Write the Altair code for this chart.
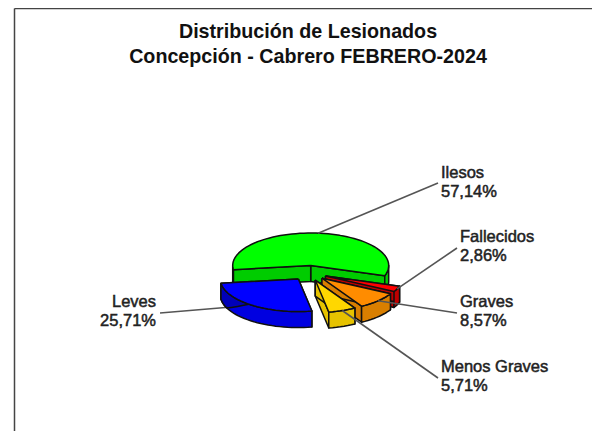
import numpy as np
import pandas as pd
import altair as alt

# --- data ---
categories = ["Ilesos", "Leves", "Menos Graves", "Graves", "Fallecidos"]
percentages = [57.14, 25.71, 5.71, 8.57, 2.86]
pct_labels = ["57,14%", "25,71%", "5,71%", "8,57%", "2,86%"]
top_colors = ["#00ff00", "#0000ff", "#ffd700", "#ff8c00", "#ff0000"]
wall_colors = ["#00cc00", "#0000e0", "#e6c200", "#d97f00", "#c00000"]
title_lines = ["Distribución de Lesionados", "Concepción - Cabrero FEBRERO-2024"]

# --- layout (page pixels) ---
W, H, M = 584, 423, 8
CX, CY, RX, RY, DEPTH, EXPLODE = 309, 273, 78, 32.5, 16, 18
START_DEG = -18.3
draw_order = [0, 4, 3, 2, 1]
label_anchor = {  # x, first baseline, align, leader end x, leader end y
    "Ilesos": (441, 178, "left", 438, 183),
    "Leves": (156, 307, "right", 160, 313),
    "Menos Graves": (441, 372, "left", 438, 378),
    "Graves": (460, 307, "left", 457, 313),
    "Fallecidos": (460, 242, "left", 457, 248),
}

fracs = np.array(percentages) / sum(percentages) * 360
edges = START_DEG + np.concatenate([[0], np.cumsum(fracs)])

x_scale = alt.Scale(domain=[0, W], range=[0, W], nice=False, zero=False)
y_scale = alt.Scale(domain=[H, 0], nice=False, zero=False)
xe = alt.X("x:Q", scale=x_scale, axis=None)
ye = alt.Y("y:Q", scale=y_scale, axis=None)


def frame(pts):
    return pd.DataFrame({"x": [p[0] - M for p in pts], "y": [p[1] - M for p in pts], "i": range(len(pts))})


def poly(pts, fill):
    pts = list(pts) + [pts[0]]
    return alt.Chart(frame(pts)).mark_line(
        fill=fill, stroke="#101010", strokeWidth=1.5, strokeJoin="round"
    ).encode(x=xe, y=ye, order="i:Q")


def line(pts, color="#555555", width=1.6):
    return alt.Chart(frame(pts)).mark_line(stroke=color, strokeWidth=width).encode(x=xe, y=ye, order="i:Q")


def pt(c, deg, r=1.0, dz=0):
    a = np.radians(deg)
    return (c[0] + RX * r * np.cos(a), c[1] - RY * r * np.sin(a) + dz)


def arc(c, a0, a1, dz=0):
    n = max(2, int(abs(a1 - a0) / 3) + 2)
    return [pt(c, a, 1.0, dz) for a in np.linspace(a0, a1, n)]


layers = []
leaders = []
under_leaders = []
for k in draw_order:
    a0, a1 = edges[k], edges[k + 1]
    mid = (a0 + a1) / 2
    m = np.radians(mid)
    tip = (CX + EXPLODE * np.cos(m), CY - EXPLODE * RY / RX * np.sin(m))
    wall, top = wall_colors[k], top_colors[k]
    # radial cut faces
    for a in (a0, a1):
        p = pt(tip, a)
        layers.append(poly([tip, p, (p[0], p[1] + DEPTH), (tip[0], tip[1] + DEPTH)], wall))
    # visible part of the outer wall (front half of the ellipse)
    for lo, hi in ((a0, min(a1, 0)), (max(a0, 180), min(a1, 360))):
        if hi > lo:
            layers.append(poly(arc(tip, lo, hi) + arc(tip, hi, lo, DEPTH), wall))
    if categories[k] == "Leves":
        # darker shaded patch on the left of the wall
        shade = np.linspace(mid - 3, a0, 12)
        lower = [pt(tip, a, 1.0, DEPTH * min(1.0, (mid - 3 - a) / (mid - 3 - a0) * 1.6)) for a in shade]
        layers.append(poly(arc(tip, a0, mid - 3) + lower, "#0000b8"))
    layers.append(poly([tip] + arc(tip, a0, a1), top))
    lx, ly, _, ex, ey = label_anchor[categories[k]]
    seg = line([pt(tip, mid), (ex, ey)])
    (under_leaders if categories[k] == "Leves" else leaders).append(seg)

frame_lines = [
    line([(14.5, 8.5), (14.5, 431)], "#444444", 1.5),
    line([(14.5, 8.5), (592, 8.5)], "#444444", 1.5),
]

rows = []
for k, name in enumerate(categories):
    lx, ly, al, _, _ = label_anchor[name]
    rows.append({"x": lx - M, "y": ly - M, "t": name, "al": al})
    rows.append({"x": lx - M, "y": ly + 18.7 - M, "t": pct_labels[k], "al": al})
df_lab = pd.DataFrame(rows)


def text_layer(df, align):
    return alt.Chart(df).mark_text(
        align=align, baseline="alphabetic", font="Liberation Sans", fontSize=16.5, color="#222222",
        stroke="#222222", strokeWidth=0.5,
    ).encode(x=xe, y=ye, text="t:N")


labels_l = text_layer(df_lab[df_lab.al == "left"], "left")
labels_r = text_layer(df_lab[df_lab.al == "right"], "right")

df_title = pd.DataFrame({"x": [308 - M] * 2, "y": [38 - M, 63 - M], "t": title_lines})
title = alt.Chart(df_title).mark_text(
    align="center", baseline="alphabetic", font="Liberation Sans", fontSize=19.7, fontWeight="bold", color="#111111"
).encode(x=xe, y=ye, text="t:N")

chart = alt.layer(*frame_lines, *under_leaders, *layers, *leaders, labels_l, labels_r, title).properties(
    width=W, height=H, padding=0, autosize=alt.AutoSizeParams(type="none"),
    background="white",
).configure_view(stroke=None)

chart.save("out.html", embed_options={"renderer": "svg", "actions": False})
